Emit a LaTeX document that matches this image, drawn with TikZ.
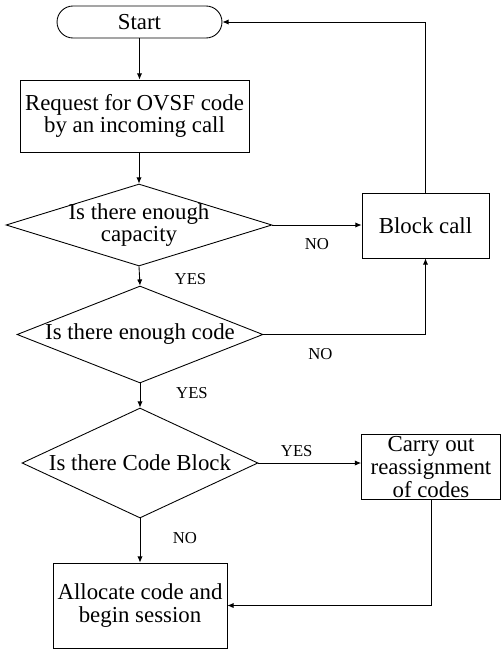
\documentclass[tikz,border=0pt]{standalone}
\usepackage{fontspec}
\setmainfont{Liberation Serif}
\usepackage{tikz}
\usetikzlibrary{arrows.meta,shapes.geometric,positioning}
\tikzset{>={Latex[length=3.5pt,width=3pt]}}
\tikzset{box/.style={draw,line width=0.5pt,align=center,inner sep=1pt,font=\fontsize{13}{13}\selectfont},
  dec/.style={draw,diamond,aspect=2.5,inner sep=-0.2cm,line width=0.5pt,align=center,font=\fontsize{13}{13}\selectfont},
  lbl/.style={inner sep=0pt,font=\fontsize{9.5}{11}\selectfont}}

\begin{document}
\begin{tikzpicture}[x=0.02cm,y=-0.02cm,line width=0.5pt]
\useasboundingbox (0,0) rectangle (502,649);
\node[box,rounded corners=0.32cm,minimum width=3.3cm,minimum height=0.64cm] (start) at (139.5,22) {Start};
\node[box,minimum width=4.58cm,minimum height=1.44cm] (req) at (134.5,116) {Request for OVSF code\\by an incoming call};
\node[dec,minimum width=5.32cm,minimum height=1.64cm] (cap) at (139,225) {Is there enough\\capacity};
\node[box,minimum width=2.54cm,minimum height=1.3cm] (blk) at (425.5,225.5) {Block call};
\node[dec,minimum width=4.92cm,minimum height=1.94cm] (enc) at (140,334.5) {Is there enough code};
\node[dec,minimum width=4.72cm,minimum height=2.2cm] (cb) at (140,463) {Is there Code Block};
\node[box,minimum width=2.78cm,minimum height=1.28cm] (carry) at (431,467) {Carry out\\reassignment\\of codes};
\node[box,minimum width=3.48cm,minimum height=1.7cm] (alloc) at (140,605.5) {Allocate code and\\begin session};
\draw[->] (start) -- (start |- req.north);
\draw[->] (req.south -| cap.north) -- (cap.north);
\draw[->] (cap.east) -- node[lbl,yshift=-0.38cm] {NO} (cap.east -| blk.west);
\draw[->] (cap.south) -- node[lbl,xshift=1.02cm,yshift=-0.06cm] {YES} (enc.north);
\draw[->] (enc.east) -- node[lbl,xshift=-0.48cm,yshift=-0.4cm] {NO} (blk.south |- enc.east) -- (blk.south);
\draw[->] (blk.north) -- (blk.north |- start.east) -- (start.east);
\draw[->] (enc.south) -- node[lbl,xshift=1.04cm,yshift=0.05cm] {YES} (cb.north);
\draw[->] (cb.east) -- node[lbl,xshift=-0.26cm,yshift=0.24cm] {YES} (cb.east -| carry.west);
\draw[->] (cb.south) -- node[lbl,xshift=0.9cm,yshift=0.05cm] {NO} (alloc.north);
\draw[->] (carry.south) -- (carry.south |- alloc.east) -- (alloc.east);
\end{tikzpicture}
\end{document}
